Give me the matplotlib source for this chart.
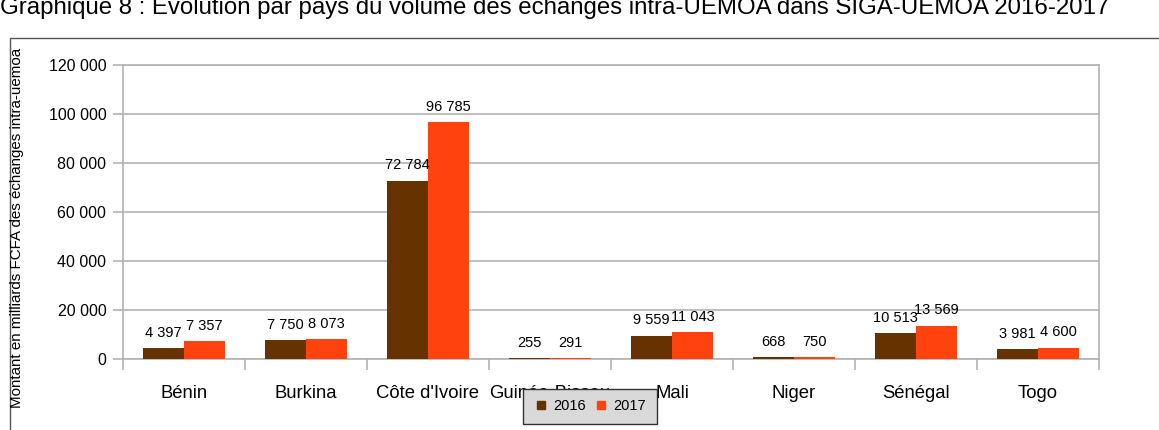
import matplotlib
matplotlib.use("Agg")
import matplotlib.pyplot as plt
import numpy as np
from matplotlib.lines import Line2D
from matplotlib.patches import Rectangle

categories = ["Bénin", "Burkina", "Côte d'Ivoire", "Guinée-Bissau", "Mali", "Niger", "Sénégal", "Togo"]
series_names = ["2016", "2017"]
values_2016 = [4397, 7750, 72784, 255, 9559, 668, 10513, 3981]
values_2017 = [7357, 8073, 96785, 291, 11043, 750, 13569, 4600]
colors = ["#663300", "#ff420e"]
yticks = [0, 20000, 40000, 60000, 80000, 100000, 120000]

plt.rcParams['font.family'] = ['Liberation Sans', 'DejaVu Sans']

W, H = 1159, 430
fig = plt.figure(figsize=(W/100, H/100), dpi=100)

def fx(px): return px / W
def fy(py): return 1 - py / H

ax = fig.add_axes([fx(123), fy(359), fx(1099) - fx(123), fy(65) - fy(359)])

x = np.arange(len(categories))
bw = 0.335
ax.bar(x - bw/2, values_2016, bw, color=colors[0], zorder=3)
ax.bar(x + bw/2, values_2017, bw, color=colors[1], zorder=3)

def fmt(v):
    return f"{v:,}".replace(",", " ")

for xi, v in zip(x - bw/2, values_2016):
    ax.annotate(fmt(v), (xi, v), xytext=(0, 6), textcoords="offset points",
                ha="center", va="bottom", fontsize=10.5, color="black")
for xi, v in zip(x + bw/2, values_2017):
    ax.annotate(fmt(v), (xi, v), xytext=(0, 6), textcoords="offset points",
                ha="center", va="bottom", fontsize=10.5, color="black")

ax.set_xlim(-0.5, len(categories) - 0.5)
ax.set_ylim(0, 120000)
ax.set_yticks(yticks)
ax.set_yticklabels([fmt(v) for v in yticks], fontsize=11.5)
ax.set_xticks(x)
ax.set_xticklabels(categories, fontsize=13.3)
ax.set_xticks(np.arange(len(categories) + 1) - 0.5, minor=True)
ax.tick_params(axis='x', which='major', length=0, pad=18.5)
ax.tick_params(axis='x', which='minor', length=8, color="#b3b3b3", width=1.2)
ax.tick_params(axis='y', length=7, color="#b3b3b3", width=1.2, pad=5)
ax.yaxis.grid(True, color="#b3b3b3", linewidth=1.2, zorder=0)
ax.set_axisbelow(True)
for s in ax.spines.values():
    s.set_color("#b3b3b3")
    s.set_linewidth(1.2)

fig.text(fx(17), fy(228), "Montant en milliards FCFA des échanges intra-uemoa",
         rotation=90, ha="center", va="center", fontsize=10.9)

fig.text(fx(0), fy(14), "Graphique 8 : Évolution par pays du volume des échanges intra-UEMOA dans SIGA-UEMOA 2016-2017",
         ha="left", va="baseline", fontsize=17.3)

# outer frame
fig.add_artist(Rectangle((fx(10), fy(470)), fx(1180) - fx(10), fy(38) - fy(470),
                         transform=fig.transFigure, fill=False, edgecolor="#555555", linewidth=1.0))

handles = [Line2D([], [], marker='s', linestyle='none', markersize=6, color=c) for c in colors]
leg = fig.legend(handles, series_names, loc="center", bbox_to_anchor=(fx(590), fy(406.5)),
                 ncol=2, fontsize=10.5, frameon=True, fancybox=False, handletextpad=0.4,
                 columnspacing=0.55, borderpad=0.75, handlelength=0.9, borderaxespad=0)
leg.get_frame().set_facecolor("#d9d9d9")
leg.get_frame().set_edgecolor("#333333")
leg.get_frame().set_alpha(1)
leg.get_frame().set_linewidth(1.0)

fig.savefig("out.png", dpi=100)
